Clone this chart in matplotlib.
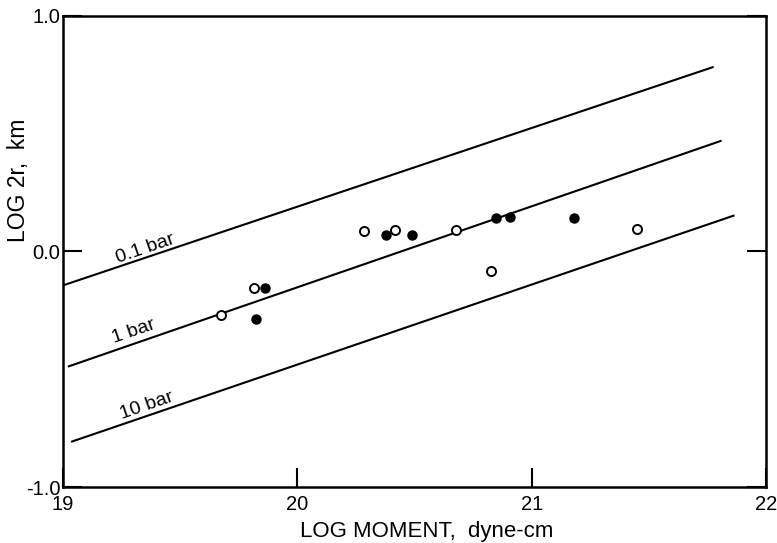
import matplotlib.pyplot as plt

plt.rcParams['font.family'] = ['Liberation Sans', 'DejaVu Sans']

# stress drop lines (endpoints)
line_names = ["0.1 bar", "1 bar", "10 bar"]
line_x = [[19.004, 21.776], [19.021, 21.810], [19.035, 21.865]]
line_y = [[-0.143, 0.783], [-0.489, 0.470], [-0.808, 0.153]]

# open circles
open_x = [19.675, 19.813, 20.285, 20.417, 20.675, 20.827, 21.451]
open_y = [-0.271, -0.154, 0.086, 0.089, 0.090, -0.085, 0.097]

# filled circles
fill_x = [19.823, 19.860, 20.380, 20.491, 20.848, 20.908, 21.182]
fill_y = [-0.285, -0.154, 0.069, 0.068, 0.143, 0.145, 0.140]

fig = plt.figure(figsize=(7.77, 5.43), dpi=100)
ax = fig.add_axes([0.081, 0.103, 0.905, 0.868])

for lx, ly in zip(line_x, line_y):
    ax.plot(lx, ly, color='black', lw=1.5, solid_capstyle='butt')

# labels along lines
label_pos = [(19.35, 0.012), (19.30, -0.340), (19.36, -0.655)]
for name, (tx, ty) in zip(line_names, label_pos):
    ax.text(tx, ty, name, rotation=19, ha='center', va='center', fontsize=14)

ax.plot(open_x, open_y, 'o', mfc='white', mec='black', mew=1.4, ms=6.5)
ax.plot(fill_x, fill_y, 'o', mfc='black', mec='black', ms=6.5)

ax.set_xlim(19, 22)
ax.set_ylim(-1, 1)
ax.set_xticks([19, 20, 21, 22])
ax.set_xticklabels(['19', '20', '21', '22'], fontsize=14.5)
ax.set_yticks([-1, 0, 1])
ax.set_yticklabels(['-1.0', '0.0', '1.0'], fontsize=14.5)
ax.tick_params(axis='both', direction='in', length=13.5, width=1.5)
ax.tick_params(axis='x', pad=6)
ax.tick_params(axis='y', right=True, pad=2)
for s in ax.spines.values():
    s.set_linewidth(1.8)

ax.set_xlabel("LOG MOMENT,  dyne-cm", fontsize=16)
ax.xaxis.set_label_coords(0.517, -0.072)
ax.set_ylabel("LOG 2r,  km", fontsize=16.5)
ax.yaxis.set_label_coords(-0.047, 0.650)

fig.savefig('out.png', dpi=100)
